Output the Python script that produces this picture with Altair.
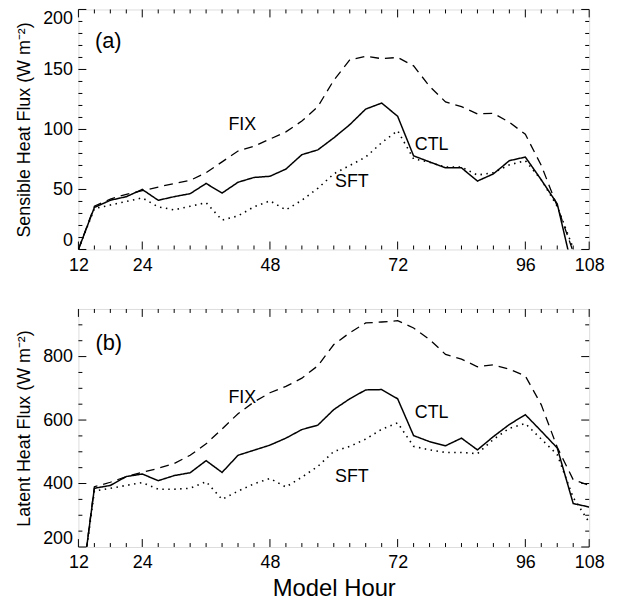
import altair as alt
import pandas as pd

# ---------------- data ----------------
hours_a = list(range(12, 106, 3))   # 12 .. 105
hours_b = list(range(12, 109, 3))   # 12 .. 108

ctl_sh = [0, 35, 41, 44, 50, 41, 44, 46.5, 55, 47, 56, 60, 61, 67, 79, 83,
          93, 104, 117, 122, 111, 78, 73, 68, 68, 57, 63, 74, 77, 58, 38, -19]
fix_sh = [0, 36, 42, 46, 49, 52, 55, 57.6, 64, 73, 82, 86, 92, 98, 107, 119,
          141, 158, 161, 159, 160, 153, 136, 123, 119, 113, 113.5, 106, 96, 70, 36, -2]
sft_sh = [0, 34, 37, 40, 43, 35.5, 33, 36, 39, 24.5, 28, 35.5, 40.5, 33, 41, 51,
          63, 70, 77, 89, 99, 75.5, 72.7, 68.6, 68.6, 62, 64, 70.5, 74, 58, 36, 1]

ctl_lh = [0, 385, 394, 422, 430, 409, 425, 434, 472, 435, 489, 505, 521, 543, 570, 584,
          633, 667, 695, 696, 667, 551, 532, 519, 543, 506, 548, 586, 617, 565, 512, 337, 326]
fix_lh = [0, 390, 404, 422, 435, 448, 463, 489, 525, 572, 620, 657, 686, 706, 732, 771,
          838, 875, 906, 909, 913, 890, 854, 807, 792, 768, 774, 760, 739, 648, 514, 412, 394]
sft_lh = [0, 376, 385, 394, 403, 382, 382, 385, 406, 350, 376, 399, 416, 389, 420, 454,
          501, 517, 540, 571, 591, 517, 506, 498, 498, 494, 539, 574, 589, 540, 491, 356, 278]

x_major = [12, 24, 48, 72, 96, 108]
x_minor = [h for h in range(15, 108, 3) if h not in x_major]
ya_major = [0, 50, 100, 150, 200]
ya_minor = [v for v in range(10, 200, 10) if v % 50 != 0]
yb_major = [200, 400, 600, 800]
yb_minor = [v for v in range(250, 950, 50) if v % 200 != 0]

lab_a_text = ["FIX", "CTL", "SFT"]
lab_a_hour = [42.8, 78.4, 63.4]
lab_a_value = [103.7, 87, 55.8]
lab_b_text = ["FIX", "CTL", "SFT"]
lab_b_hour = [42.8, 78.4, 63.4]
lab_b_value = [670, 622, 420]

tag_a = ("(a)", 17.6, 174)
tag_b = ("(b)", 17.7, 844)

FONT = "Liberation Sans"
W = 515


def panel(hours, ctl, fix, sft, ydomain, ymaj, ymin, ytitle,
          ltext, lhour, lvalue, tag, H, xtitle):
    xaxis = alt.Axis(values=x_major, title=xtitle, labelFlush=False,
                     ticks=False, domain=False, grid=False,
                     labelFontSize=18, labelPadding=7, labelFont=FONT,
                     titleFont=FONT, titleFontWeight="normal",
                     titleFontSize=24, titlePadding=5)
    yaxis = alt.Axis(values=ymaj, title=ytitle, labelFlush=True,
                     ticks=False, domain=False, grid=False,
                     labelFontSize=18, labelPadding=6, labelFont=FONT,
                     titleFont=FONT, titleFontWeight="normal",
                     titleFontSize=18, titlePadding=9)
    xs = alt.Scale(domain=[12, 108], nice=False, zero=False)
    ys = alt.Scale(domain=ydomain, nice=False, zero=False)
    X = alt.X("hour:Q", scale=xs, axis=xaxis)
    Y = alt.Y("value:Q", scale=ys, axis=yaxis)

    def line(vals, dash, sw):
        df = pd.DataFrame({"hour": hours, "value": vals})
        return alt.Chart(df).mark_line(color="black", strokeWidth=sw,
                                       strokeDash=dash, clip=True).encode(x=X, y=Y)

    layers = [
        line(ctl, [1, 0], 1.5),
        line(fix, [9, 6], 1.3),
        line(sft, [1.5, 4.5], 1.6),
    ]
    ldf = pd.DataFrame({"hour": lhour, "value": lvalue, "t": ltext})
    layers.append(alt.Chart(ldf).mark_text(font=FONT, fontSize=18, color="black")
                  .encode(x=X, y=Y, text="t:N"))
    tdf = pd.DataFrame({"hour": [tag[1]], "value": [tag[2]], "t": [tag[0]]})
    layers.append(alt.Chart(tdf).mark_text(font=FONT, fontSize=22, color="black")
                  .encode(x=X, y=Y, text="t:N"))

    def xticks(vals, L):
        df = pd.DataFrame({"hour": vals})
        bot = alt.Chart(df).mark_rule(color="black", strokeWidth=1).encode(
            x=X, y=alt.value(H), y2=alt.value(H - L))
        top = alt.Chart(df).mark_rule(color="black", strokeWidth=1).encode(
            x=X, y=alt.value(0), y2=alt.value(L))
        return [bot, top]

    def yticks(vals, L):
        df = pd.DataFrame({"value": vals})
        left = alt.Chart(df).mark_rule(color="black", strokeWidth=1).encode(
            y=Y, x=alt.value(0), x2=alt.value(L))
        right = alt.Chart(df).mark_rule(color="black", strokeWidth=1).encode(
            y=Y, x=alt.value(W), x2=alt.value(W - L))
        return [left, right]

    layers += xticks(x_major, 8) + xticks(x_minor, 4)
    layers += yticks(ymaj, 8) + yticks(ymin, 4)
    return alt.layer(*layers).properties(width=W, height=H)


pa = panel(hours_a, ctl_sh, fix_sh, sft_sh, [0, 200], ya_major, ya_minor,
           "Sensible Heat Flux (W m\u207b\u00b2)", lab_a_text, lab_a_hour, lab_a_value,
           tag_a, 242, None)
pb = panel(hours_b, ctl_lh, fix_lh, sft_lh, [200, 950], yb_major, yb_minor,
           "Latent Heat Flux (W m\u207b\u00b2)", lab_b_text, lab_b_hour, lab_b_value,
           tag_b, 240, "Model Hour")

chart = alt.vconcat(pa, pb, spacing=33,
                    padding={"left": 7, "top": -2, "right": 5, "bottom": 0}).configure_view(
    stroke="black", strokeWidth=1.2).configure_axis(
    labelFont=FONT, titleFont=FONT, labelColor="black", titleColor="black",
    titleFontWeight="normal").configure(background="white")

chart.save("out.html", embed_options={"renderer": "svg", "actions": False})
